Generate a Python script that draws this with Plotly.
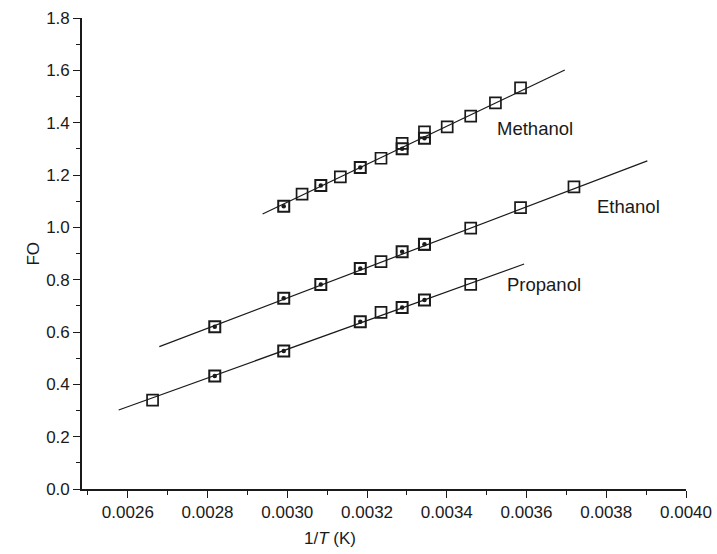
import plotly.graph_objects as go

# ---- data (1/T in K^-1, FO values) ----
meth_open_x = [0.003037, 0.003133, 0.003235, 0.003288, 0.003344, 0.003401, 0.003460, 0.003522, 0.003585]
meth_open_y = [1.127, 1.193, 1.264, 1.321, 1.365, 1.384, 1.425, 1.476, 1.533]
meth_dot_x = [0.002991, 0.003084, 0.003183, 0.003288, 0.003344]
meth_dot_y = [1.081, 1.160, 1.229, 1.300, 1.340]
meth_fit_x = [0.002938, 0.003696]
meth_fit_y = [1.051, 1.601]

eth_open_x = [0.003235, 0.003344, 0.003460, 0.003585, 0.003719]
eth_open_y = [0.869, 0.935, 0.997, 1.075, 1.155]
eth_dot_x = [0.002818, 0.002991, 0.003084, 0.003183, 0.003288, 0.003344]
eth_dot_y = [0.620, 0.729, 0.782, 0.843, 0.907, 0.935]
eth_fit_x = [0.002679, 0.003903]
eth_fit_y = [0.544, 1.254]

prop_open_x = [0.002662, 0.003235, 0.003460]
prop_open_y = [0.340, 0.675, 0.782]
prop_dot_x = [0.002818, 0.002991, 0.003183, 0.003288, 0.003344]
prop_dot_y = [0.432, 0.527, 0.639, 0.694, 0.722]
prop_fit_x = [0.002577, 0.003594]
prop_fit_y = [0.302, 0.860]

labels = ["Methanol", "Ethanol", "Propanol"]
label_x = [0.003526, 0.003777, 0.003552]
label_y = [1.379, 1.078, 0.782]

x_ticks = [0.0026, 0.0028, 0.0030, 0.0032, 0.0034, 0.0036, 0.0038, 0.0040]
y_ticks = [0.0, 0.2, 0.4, 0.6, 0.8, 1.0, 1.2, 1.4, 1.6, 1.8]

FONT = "Liberation Sans, Arial, sans-serif"
INK = "#1a1a1a"

fig = go.Figure()

for fx, fy in [(meth_fit_x, meth_fit_y), (eth_fit_x, eth_fit_y), (prop_fit_x, prop_fit_y)]:
    fig.add_trace(go.Scatter(x=fx, y=fy, mode="lines",
                             line=dict(color=INK, width=1.2), showlegend=False))

for ox, oy in [(meth_open_x, meth_open_y), (eth_open_x, eth_open_y), (prop_open_x, prop_open_y)]:
    fig.add_trace(go.Scatter(x=ox, y=oy, mode="markers",
                             marker=dict(symbol="square-open", size=11,
                                         color=INK, line=dict(width=1.7, color=INK)),
                             showlegend=False))

for dx, dy in [(meth_dot_x, meth_dot_y), (eth_dot_x, eth_dot_y), (prop_dot_x, prop_dot_y)]:
    fig.add_trace(go.Scatter(x=dx, y=dy, mode="markers",
                             marker=dict(symbol="square-open", size=11,
                                         color=INK, line=dict(width=2.0, color=INK)),
                             showlegend=False))
    fig.add_trace(go.Scatter(x=dx, y=dy, mode="markers",
                             marker=dict(symbol="circle", size=4.5, color=INK,
                                         line=dict(width=0)),
                             showlegend=False))

for t, lx, ly in zip(labels, label_x, label_y):
    fig.add_annotation(x=lx, y=ly, text=t, showarrow=False, xanchor="left",
                       xshift=-2, font=dict(family=FONT, size=18.5, color=INK))

# axis titles
fig.add_annotation(xref="paper", yref="paper", x=0.41, y=-0.08, text="1/<i>T</i> (K)",
                   showarrow=False, font=dict(family=FONT, size=17, color=INK),
                   xanchor="center", yanchor="top")
fig.add_annotation(xref="paper", yref="paper", x=-0.1, y=0.5, text="FO",
                   showarrow=False, textangle=-90,
                   font=dict(family=FONT, size=17, color=INK))

fig.update_layout(
    width=717, height=554,
    margin=dict(l=82, r=31, t=18, b=65),
    paper_bgcolor="white", plot_bgcolor="white",
    font=dict(family=FONT, size=17, color=INK),
    showlegend=False,
)

fig.update_xaxes(
    range=[0.002485, 0.0040], tickvals=x_ticks, tickformat=".4f",
    showline=True, linecolor=INK, linewidth=1.6, showgrid=False, zeroline=False,
    ticks="outside", ticklen=7, tickwidth=1.4, tickcolor=INK, automargin=False,
    minor=dict(dtick=0.0001, tick0=0.0025, ticks="outside", ticklen=4,
               tickwidth=1.2, tickcolor=INK, showgrid=False),
    tickfont=dict(family=FONT, size=17, color=INK),
)
fig.update_yaxes(
    range=[0, 1.8], tickvals=y_ticks, tickformat=".1f",
    showline=True, linecolor=INK, linewidth=1.6, showgrid=False, zeroline=False,
    ticks="outside", ticklen=7, tickwidth=1.4, tickcolor=INK, automargin=False,
    minor=dict(dtick=0.1, tick0=0, ticks="outside", ticklen=4,
               tickwidth=1.2, tickcolor=INK, showgrid=False),
    tickfont=dict(family=FONT, size=17, color=INK),
)

fig.write_html("out.html", config={"displayModeBar": False},
               post_script="document.body.style.margin='0px';")
